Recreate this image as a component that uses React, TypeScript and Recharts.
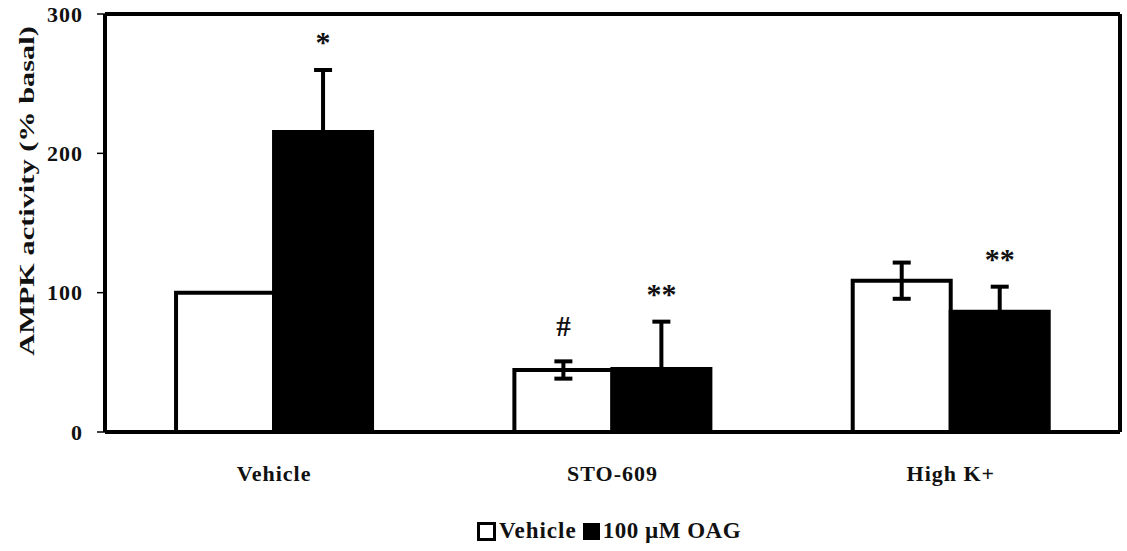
import { BarChart, Bar, XAxis, YAxis, ErrorBar, Legend, LabelList, CartesianGrid } from 'recharts';

const groups = ['Vehicle', 'STO-609', 'High K+'];
const vehicleVals = [100, 44.5, 108.6];
const vehicleErr = [0, 6.2, 13];
const oagVals = [215.3, 45.2, 86.3];
const oagErr = [44.5, 34, 18];
const vehicleMarks = ['', '#', ''];
const oagMarks = ['*', '**', '**'];
const yTicks = [0, 100, 200, 300];
const boundaryTicks = [0, 1, 2, 3];

const data = groups.map((g, i) => ({
  group: g,
  vehicle: vehicleVals[i],
  vehicleErr: vehicleErr[i],
  oag: oagVals[i],
  oagErr: oagErr[i],
}));

const FONT = '"Liberation Serif", "Times New Roman", serif';

// significance marks sit above the top of the error bar
function markLabel(marks: string[], errs: number[], vals: number[]) {
  return (props: any) => {
    const { x, y, width, height, index } = props;
    const m = marks[index];
    if (!m) return null;
    const pxPerUnit = height / vals[index];
    const errTop = y - errs[index] * pxPerUnit;
    const isHash = m === '#';
    return (
      <text
        x={x + width / 2}
        y={errTop - (isHash ? 25 : 18)}
        textAnchor="middle"
        fontFamily={FONT}
        fontWeight="bold"
        fontSize={isHash ? 29 : 30}
        fill="#111"
      >
        {m}
      </text>
    );
  };
}

const LegendBox = () => (
  <div
    style={{
      height: 44,
      paddingLeft: 105,
      paddingRight: 7,
      boxSizing: 'border-box',
      display: 'flex',
      justifyContent: 'center',
      alignItems: 'center',
      paddingTop: 4,
      fontFamily: FONT,
      fontWeight: 'bold',
      fontSize: 23,
      color: '#111',
    }}
  >
    <span style={{ width: 13, height: 13, border: '3px solid #000', background: '#fff', marginRight: 3 }} />
    <span style={{ marginRight: 6, letterSpacing: 1 }}>Vehicle</span>
    <span style={{ width: 17, height: 17, background: '#000', marginRight: 3 }} />
    <span style={{ letterSpacing: 0.5 }}>100 µM OAG</span>
  </div>
);

export default function App() {
  return (
    <div style={{ position: 'absolute', left: 0, top: 0, background: '#fff' }}>
      <BarChart
        width={1127}
        height={551}
        data={data}
        margin={{ top: 14, right: 7, left: 0, bottom: 0 }}
        barGap={0}
        barCategoryGap="21%"
      >
        {/* top and right frame lines */}
        <CartesianGrid
          stroke="#000"
          strokeWidth={4}
          fill="none"
          horizontalCoordinatesGenerator={({ offset }: any) => [offset.top]}
          verticalCoordinatesGenerator={({ offset }: any) => [offset.left + offset.width]}
        />
        <XAxis
          xAxisId="bounds"
          type="number"
          domain={[0, 3]}
          ticks={boundaryTicks}
          height={0}
          tickSize={6}
          tickLine={{ stroke: '#000', strokeWidth: 1.5 }}
          tickFormatter={() => ''}
          axisLine={false}
        />
        <XAxis
          dataKey="group"
          height={75}
          tickLine={false}
          tickSize={0}
          tickMargin={33}
          axisLine={{ stroke: '#000', strokeWidth: 4 }}
          tick={{ fill: '#111', fontSize: 22, fontWeight: 'bold', fontFamily: FONT, letterSpacing: 1 }}
        />
        <YAxis
          domain={[0, 300]}
          ticks={yTicks}
          width={105}
          tickSize={8}
          tickMargin={14}
          tickLine={{ stroke: '#000', strokeWidth: 1.5 }}
          axisLine={{ stroke: '#000', strokeWidth: 4 }}
          tick={{ fill: '#111', fontSize: 22, fontWeight: 'bold', fontFamily: FONT, letterSpacing: 1 }}
          label={{
            content: () => (
              <text
                transform="translate(34,191) rotate(-90) scale(1.38,1)"
                textAnchor="middle"
                fontFamily={FONT}
                fontWeight="bold"
                fontSize={22}
                fill="#111"
              >
                AMPK activity (% basal)
              </text>
            ),
          }}
        />
        <Legend verticalAlign="bottom" content={LegendBox} />
        <Bar dataKey="vehicle" fill="#fff" stroke="#000" strokeWidth={4} isAnimationActive={false}>
          <ErrorBar dataKey="vehicleErr" width={9} stroke="#000" strokeWidth={4} />
          <LabelList content={markLabel(vehicleMarks, vehicleErr, vehicleVals)} />
        </Bar>
        <Bar dataKey="oag" fill="#000" stroke="#000" strokeWidth={4} isAnimationActive={false}>
          <ErrorBar dataKey="oagErr" width={9} stroke="#000" strokeWidth={4} />
          <LabelList content={markLabel(oagMarks, oagErr, oagVals)} />
        </Bar>
      </BarChart>
    </div>
  );
}
